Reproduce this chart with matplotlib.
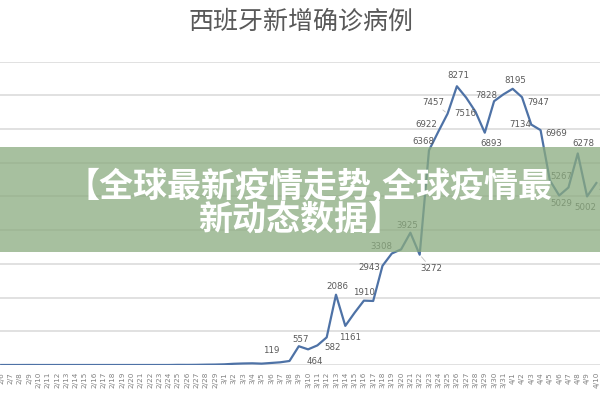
import matplotlib
matplotlib.use("Agg")
import matplotlib.pyplot as plt
from matplotlib.patches import Rectangle
import pandas as pd

# ---- data ----
dates = [f"{d.month}/{d.day}" for d in pd.date_range("2020-02-06", "2020-04-10")]
values = (
    [0, 0, 0, 1, 0, 0, 0, 0, 0, 0, 0, 0, 0, 0, 0, 0, 0, 0, 0, 4, 3, 5, 10, 13]  # 2/6 - 2/29
    + [20, 36, 45, 50, 40, 60, 80, 119, 557, 464, 582, 820, 2086, 1161, 1550, 1910,
       1900, 2943, 3308, 3430, 3925, 3272, 6368, 6922, 7457, 8271, 7933, 7516, 6893,
       7828, 8030]  # March
    + [8195, 7947, 7134, 6969, 5478, 5029, 5267, 6278, 5002, 5400]  # 4/1 - 4/10
)
labeled_dates = ["3/8", "3/9", "3/10", "3/11", "3/13", "3/14", "3/16", "3/18", "3/19",
                 "3/21", "3/22", "3/23", "3/24", "3/25", "3/26", "3/28", "3/29", "3/30",
                 "4/1", "4/2", "4/3", "4/4", "4/6", "4/7", "4/8", "4/9", "4/10"]
title = "西班牙新增确诊病例"
banner_lines = ["【全球最新疫情走势,全球疫情最", "新动态数据】"]

# label offsets in pixels (dx, dy) -- positions only
label_offsets = [(-18, 10), (2, 7), (7, -12), (15, -2), (1, 8), (5, -12), (0, 8),
                 (-13, -2), (-10, 7), (-3, 7), (12, -14), (-6, 9), (-12, 7), (-14, 11),
                 (1, 11), (-10, -2), (7, -11), (-8, 6), (3, 8), (16, -5), (-11, 0),
                 (16, -3), (2, -8), (-7, 11), (6, 10), (-2, -11), (13, -4)]
leader = {"3/25", "3/22"}

plt.rcParams['font.family'] = ['Noto Sans CJK SC', 'DejaVu Sans']

fig = plt.figure(figsize=(6, 4), dpi=100)
fig.patch.set_facecolor("white")
ax = fig.add_axes([0, 0.0875, 1, 0.7583])
x = list(range(len(dates)))
ax.plot(x, values, color="#4e72a6", lw=1.6, zorder=3, solid_joinstyle="round")
ax.set_xlim(-0.13, 64.39)
ax.set_ylim(0, 9000)
ax.set_yticks(range(0, 9001, 1000))
ax.yaxis.grid(True, color="#d9d9d9", lw=1.1)
ax.set_axisbelow(True)
for s in ax.spines.values():
    s.set_visible(False)
ax.tick_params(axis="y", left=False, labelleft=False)
ax.set_xticks(x)
ax.set_xticklabels(dates, rotation=90, fontsize=5.2, color="#808080",
                   family="DejaVu Sans")
ax.tick_params(axis="x", length=0, pad=5)

for d, (dx, dy) in zip(labeled_dates, label_offsets):
    i = dates.index(d)
    kw = {}
    if d in leader:
        kw["arrowprops"] = dict(arrowstyle="-", color="#bfbfbf", lw=0.6,
                                shrinkA=0, shrinkB=2)
    ax.annotate(str(values[i]), (i, values[i]), xytext=(dx, dy),
                textcoords="offset pixels", ha="center", va="center",
                fontsize=6.2, color="#595959", family="DejaVu Sans",
                annotation_clip=False, zorder=4, **kw)

fig.text(0.502, 1 - 22 / 400, title, ha="center", va="center", fontsize=18,
         color="#595959")

fig.add_artist(Rectangle((0, 0.37), 1, 0.2625, transform=fig.transFigure,
                         facecolor=(138 / 255, 171 / 255, 127 / 255), alpha=0.75,
                         edgecolor="none", zorder=10))
fig.text(0.515, 1 - 186 / 400, banner_lines[0], ha="center", va="center",
         fontsize=24.5, fontweight="black", color="white", zorder=11)
fig.text(0.500, 1 - 219 / 400, banner_lines[1], ha="center", va="center",
         fontsize=24.5, fontweight="black", color="white", zorder=11)

fig.savefig("out.png", dpi=100)
